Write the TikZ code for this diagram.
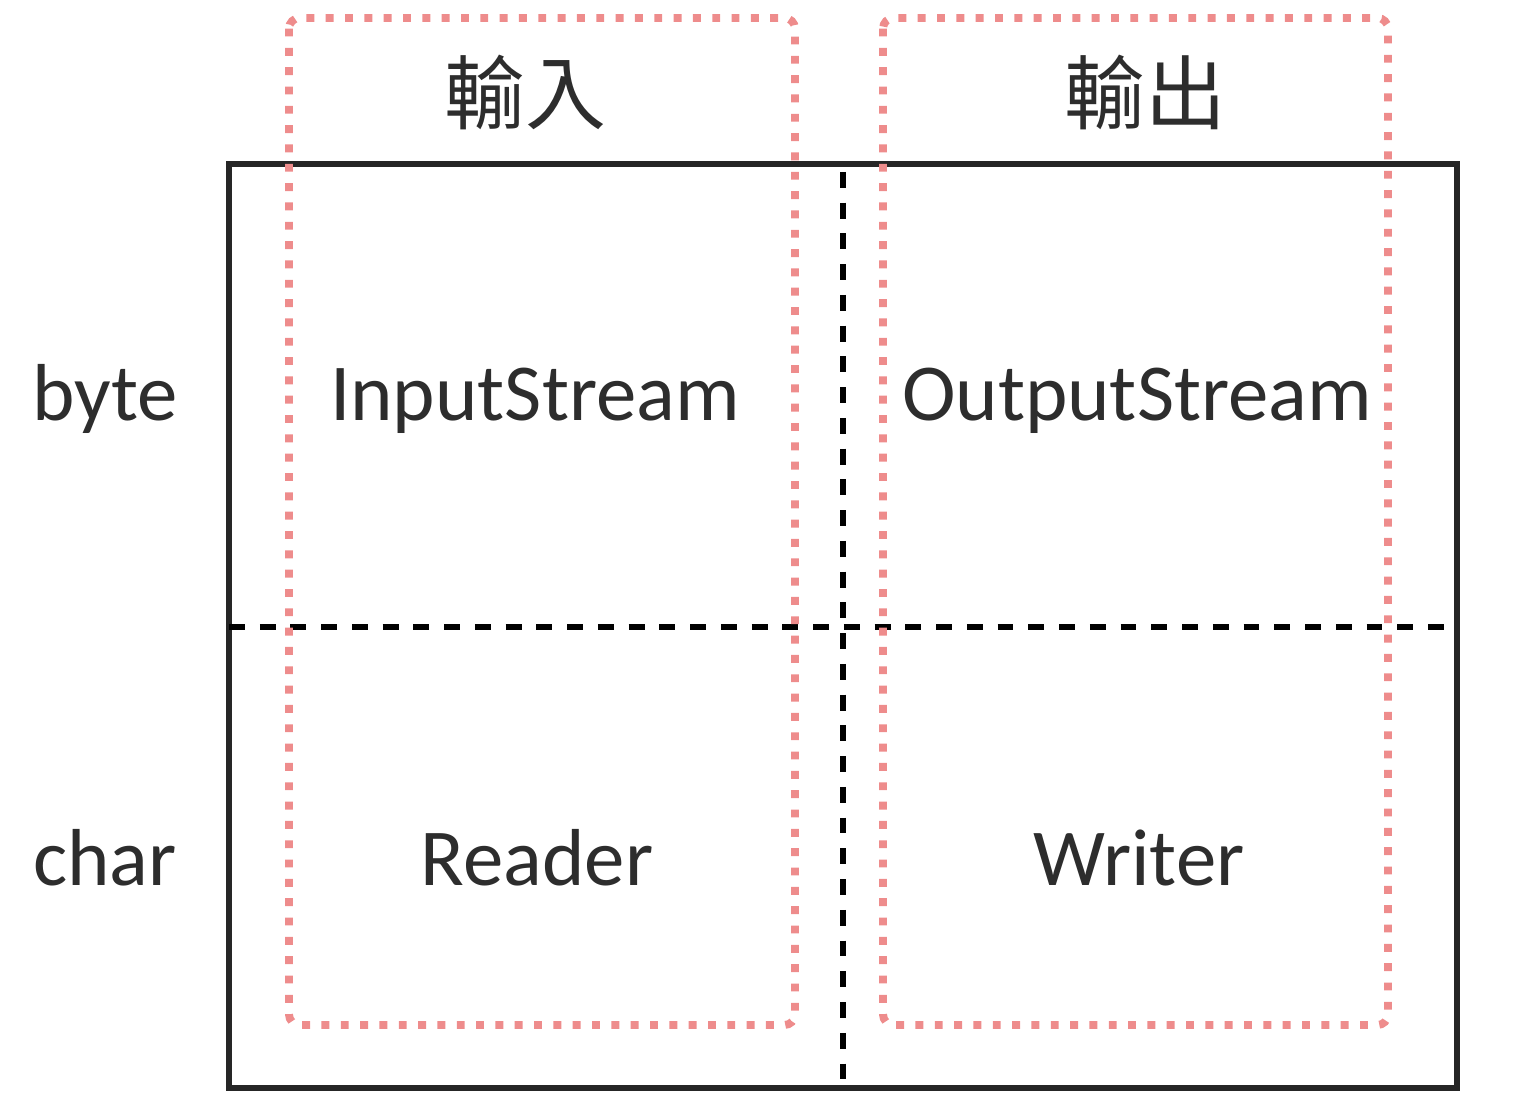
\documentclass[tikz,border=0pt]{standalone}
\usepackage{fontspec}
\setmainfont{Carlito}
\newfontfamily\cjk{Noto Sans CJK TC}
\usepackage{xcolor}
\usetikzlibrary{positioning}
\definecolor{dotred}{RGB}{238,140,140}
\definecolor{txtgray}{RGB}{45,45,45}

\begin{document}
\begin{tikzpicture}[x=0.02cm, y=-0.02cm,
    word/.style={text=txtgray, font=\fontsize{46}{46}\selectfont, anchor=base, inner sep=0pt},
    head/.style={text=txtgray, font=\cjk\fontsize{46}{46}\selectfont, inner sep=0pt},
    group/.style={draw=dotred, line width=4.5pt, dash pattern=on 4.5pt off 6.5pt, rounded corners=6pt},
    split/.style={line width=3.4pt, dash pattern=on 9pt off 8.5pt}]
     \useasboundingbox (0,0) rectangle (1520,1094);
     \draw[line width=3.6pt, color=black!85] (229,164) rectangle (1457,1088) ; %outer table
     \draw[split] (229,627) -- (1457,627);
     \draw[split] (843,172) -- (843,1088);
     %row and column titles
     \node[head] (in) at (525,92) {輸入};
     \node[head] (out) at (1145,92) {輸出};
     \node[word] (byte) at (105,420) {byte};
     \node[word] (char) at (105,885) {char};
     \node[word] (istream) at (535,420) {InputStream};
     \node[word] (ostream) at (1137,420) {OutputStream};
     \node[word] (reader) at (537,885) {Reader};
     \node[word] (writer) at (1139,885) {Writer};
     %the two dotted groups
     \draw[group] (289,18) rectangle (795,1025);
     \draw[group] (883,18) rectangle (1388,1025);
   \end{tikzpicture}
\end{document}
